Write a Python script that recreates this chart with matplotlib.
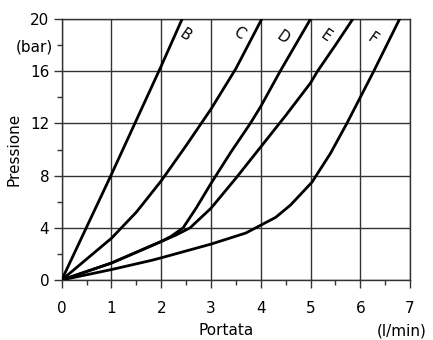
import numpy as np
import matplotlib
matplotlib.use("Agg")
import matplotlib.pyplot as plt
from matplotlib.ticker import FixedLocator, FixedFormatter

# curve data (flow l/min, pressure bar)
b_x = [0, 1.0, 2.0, 2.42]
b_y = [0, 8.1, 16.4, 20]
c_x = [0, 0.5, 1.0, 1.5, 2.0, 2.5, 3.0, 3.5, 4.02]
c_y = [0, 1.6, 3.2, 5.2, 7.6, 10.3, 13.1, 16.2, 20.0]
d_x = [0, 1.0, 2.0, 2.2, 2.44, 2.7, 3.0, 3.4, 3.79, 4.0, 4.39, 5.0]
d_y = [0, 1.3, 2.95, 3.35, 4.0, 5.5, 7.4, 9.8, 12.0, 13.3, 16.0, 20.0]
e_x = [0, 1.0, 2.0, 2.3, 2.58, 3.0, 3.5, 4.0, 4.5, 5.0, 5.14, 5.5, 5.85]
e_y = [0, 1.3, 2.95, 3.45, 4.0, 5.5, 7.8, 10.2, 12.6, 15.1, 16.0, 18.0, 20.0]
f_x = [0, 1.0, 1.8, 2.0, 3.0, 3.7, 4.0, 4.3, 4.6, 5.03, 5.4, 5.73, 6.27, 6.79]
f_y = [0, 0.8, 1.5, 1.7, 2.75, 3.6, 4.2, 4.8, 5.75, 7.5, 9.7, 12.0, 16.0, 20.0]
labels = ["B", "C", "D", "E", "F"]
label_x = [2.48, 3.57, 4.45, 5.3, 6.24]
label_y = [18.8, 18.9, 18.6, 18.7, 18.5]

fig = plt.figure(figsize=(4.33, 3.4), dpi=100)
ax = fig.add_axes([0.1425, 0.1765, 0.8045, 0.7675])

for xs, ys in [(b_x, b_y), (c_x, c_y), (d_x, d_y), (e_x, e_y), (f_x, f_y)]:
    ax.plot(xs, ys, color="black", lw=2, solid_joinstyle="round",
            solid_capstyle="round", zorder=3)

for lab, lx, ly in zip(labels, label_x, label_y):
    ax.text(lx, ly, lab, rotation=-35, ha="center", va="center",
            fontsize=10.5, color="black")

ax.set_xlim(0, 7)
ax.set_ylim(0, 20)
ax.set_xticks(range(0, 8))
ax.xaxis.set_minor_locator(FixedLocator(np.arange(0.5, 7, 1.0)))
ax.set_yticks([0, 4, 8, 12, 16, 20])
ax.yaxis.set_minor_locator(FixedLocator([2, 6, 10, 14, 18]))
ax.yaxis.set_minor_formatter(FixedFormatter(["", "", "", "", "(bar)"]))

ax.grid(True, which="major", color="#333333", lw=1)
for s in ax.spines.values():
    s.set_color("#333333")
    s.set_linewidth(1)
ax.tick_params(which="major", length=6, width=1, color="#333333",
               labelsize=11, pad=3)
ax.tick_params(which="minor", length=3.5, width=1, color="#333333",
               labelsize=11, pad=3)
ax.tick_params(axis="x", which="major", pad=9)

ax.set_ylabel("Pressione", fontsize=11)
ax.yaxis.set_label_coords(-0.114, 0.5)
ax.text(0.472, -0.195, "Portata", transform=ax.transAxes, ha="center",
        va="center", fontsize=11)
ax.text(0.976, -0.195, "(l/min)", transform=ax.transAxes, ha="center",
        va="center", fontsize=11)

fig.savefig("out.png", dpi=100)
